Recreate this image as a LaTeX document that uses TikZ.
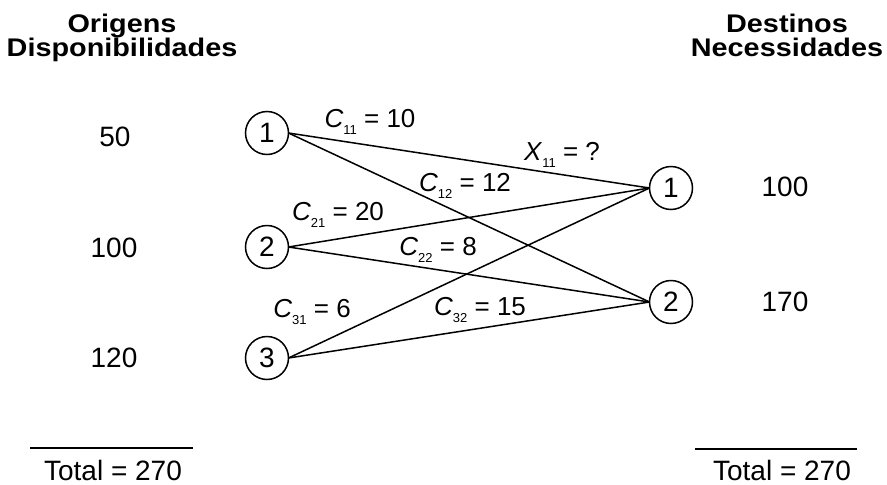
\documentclass[tikz,border=0pt]{standalone}
\usepackage{fontspec}
\setmainfont{Liberation Sans}
\newfontfamily\headfont[FakeStretch=1.13]{Liberation Sans}
\begin{document}
\begin{tikzpicture}[x=1pt,y=-1pt,
  every node/.style={inner sep=0pt,outer sep=0pt},
  txt/.style={font=\fontsize{28}{30}\selectfont},
  head/.style={font=\headfont\fontsize{25.5}{27}\selectfont\bfseries,anchor=base},
  lbl/.style={font=\fontsize{26}{28}\selectfont},
  circ/.style={draw,circle,line width=1.5pt,minimum size=43pt,font=\fontsize{28}{30}\selectfont},
  edge/.style={line width=1.5pt},
  rule/.style={line width=1.3pt}]
\useasboundingbox (0,0) rectangle (887,485);
\newcommand{\cs}[1]{\textit{C}\raisebox{-0.25em}{\fontsize{13}{14}\selectfont #1}}
% headers
\node[head] (h1) at (122,32) {Origens};
\node[head] (h2) at (122,56) {Disponibilidades};
\node[head] (h3) at (787,32) {Destinos};
\node[head] (h4) at (787,56) {Necessidades};
% supplies
\node[txt] (s1) at (115,137) {50};
\node[txt] (s2) at (114,248) {100};
\node[txt] (s3) at (114,358) {120};
\node[txt] (d1v) at (785,187) {100};
\node[txt] (d2v) at (785,302) {170};
% circles
\node[circ] (o1) at (267,133) {1};
\node[circ] (o2) at (267,247) {2};
\node[circ] (o3) at (267,358) {3};
\node[circ] (t1) at (671,188) {1};
\node[circ] (t2) at (671,302) {2};
% edges
\draw[edge] (o1.east) -- (t1.west);
\draw[edge] (o1.east) -- (t2.west);
\draw[edge] (o2.east) -- (t1.west);
\draw[edge] (o2.east) -- (t2.west);
\draw[edge] (o3.east) -- (t1.west);
\draw[edge] (o3.east) -- (t2.west);
% labels
\node[lbl] (c11) at (370,122) {\cs{11} = 10};
\node[lbl] (x11) at (562,155) {\textit{X}\raisebox{-0.25em}{\fontsize{13}{14}\selectfont 11} = ?};
\node[lbl] (c12) at (465,186) {\cs{12} = 12};
\node[lbl] (c21) at (338,215) {\cs{21} = 20};
\node[lbl] (c22) at (438,250) {\cs{22} = 8};
\node[lbl] (c31) at (312,312) {\cs{31} = 6};
\node[lbl] (c32) at (480,310) {\cs{32} = 15};
% totals
\coordinate (la) at (30,448);
\coordinate (lb) at (193,448);
\coordinate (ra) at (695,449);
\coordinate (rb) at (857,449);
\draw[rule] (la) -- (lb);
\draw[rule] (ra) -- (rb);
\node[txt] (tl) at (113,470) {Total = 270};
\node[txt] (tr) at (782,470) {Total = 270};
\end{tikzpicture}
\end{document}
